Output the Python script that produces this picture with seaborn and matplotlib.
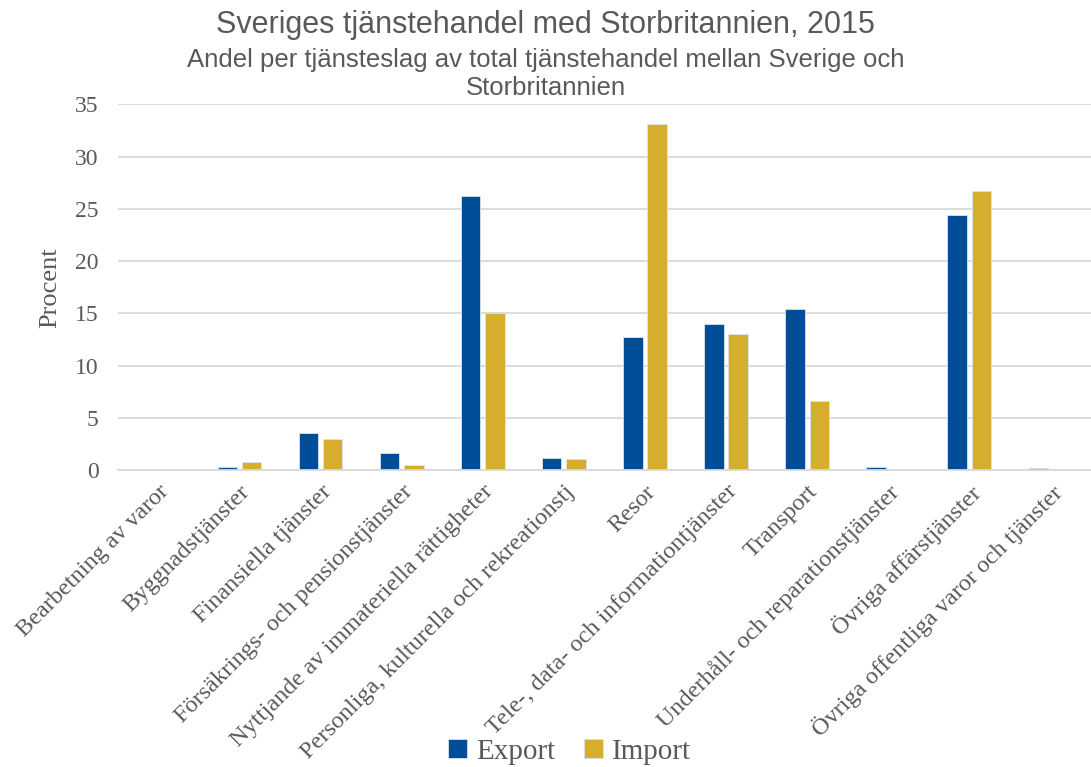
import pandas as pd
import seaborn as sns
import matplotlib.pyplot as plt

# Andel per tjänsteslag (procent)
categories = [
    'Bearbetning av varor',
    'Byggnadstjänster',
    'Finansiella tjänster',
    'Försäkrings- och pensionstjänster',
    'Nyttjande av immateriella rättigheter',
    'Personliga, kulturella och rekreationstj',
    'Resor',
    'Tele-, data- och informationtjänster',
    'Transport',
    'Underhåll- och reparationstjänster',
    'Övriga affärstjänster',
    'Övriga offentliga varor och tjänster',
]
export_values = [0.1, 0.3, 3.6, 1.6, 26.2, 1.2, 12.7, 14.0, 15.4, 0.3, 24.4, 0.2]
import_values = [0.0, 0.8, 3.0, 0.5, 15.0, 1.1, 33.1, 13.0, 6.6, 0.1, 26.7, 0.05]

df = pd.DataFrame({
    'Kategori': categories * 2,
    'Procent': export_values + import_values,
    'Flöde': ['Export'] * len(categories) + ['Import'] * len(categories),
})

sns.set_style('white')
plt.rcParams['font.family'] = ['Liberation Serif', 'DejaVu Serif']

fig = plt.figure(figsize=(10.91, 7.67), dpi=100)
ax = fig.add_axes([0.108, 0.387, 0.892, 0.477])

sns.barplot(data=df, x='Kategori', y='Procent', hue='Flöde',
            palette={'Export': '#004C97', 'Import': '#D6AE2D'}, saturation=1,
            width=0.6, gap=0.2, edgecolor='#dbe3ee', linewidth=0.6, ax=ax)

ax.set_xlim(-0.5, len(categories) - 0.5)
ax.set_ylim(0, 35)
ax.set_yticks(range(0, 36, 5))
ax.yaxis.grid(True, color='#d9d9d9', linewidth=1.3)
ax.set_axisbelow(True)
for side in ['top', 'right', 'left']:
    ax.spines[side].set_visible(False)
ax.spines['bottom'].set_color('#d9d9d9')
ax.spines['bottom'].set_linewidth(1.3)

ax.set_xlabel('')
ax.set_ylabel('Procent', fontsize=19, color='#595959', labelpad=10)
ax.tick_params(axis='y', labelsize=17, labelcolor='#595959', length=0, pad=14)
ax.tick_params(axis='x', labelsize=17.5, labelcolor='#595959', length=0, pad=8)
plt.setp(ax.get_xticklabels(), rotation=45, ha='right', rotation_mode='anchor')

fig.text(0.5, 0.968, 'Sveriges tjänstehandel med Storbritannien, 2015',
         ha='center', va='center', fontsize=22, color='#595959', family='Liberation Sans')
fig.text(0.5, 0.903, 'Andel per tjänsteslag av total tjänstehandel mellan Sverige och\nStorbritannien',
         ha='center', va='center', fontsize=18.5, color='#595959', family='Liberation Sans',
         linespacing=1.2)

handles, labels = ax.get_legend_handles_labels()
ax.legend_.remove()
fig.legend(handles, labels, loc='center', bbox_to_anchor=(0.522, 0.02),
           ncol=2, frameon=False, fontsize=21, labelcolor='#595959',
           handlelength=0.65, handleheight=0.65, handletextpad=0.3, columnspacing=1.0,
           borderpad=0)

fig.savefig('out.png', dpi=100)
